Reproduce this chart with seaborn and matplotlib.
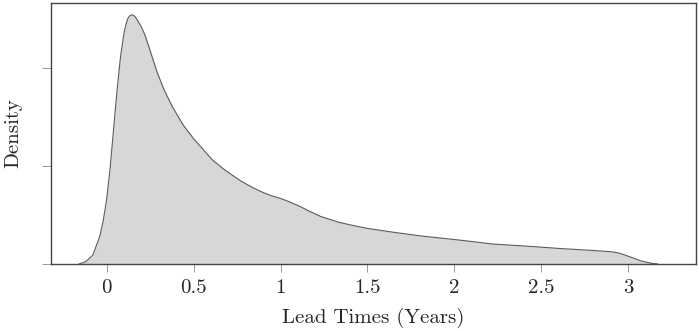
import matplotlib
matplotlib.use("Agg")
import matplotlib.pyplot as plt
import seaborn as sns
import pandas as pd

# density curve (lead time in years, density)
lead_time = [-0.16, -0.12, -0.08, -0.04, -0.02, 0.0, 0.02, 0.04, 0.06, 0.08, 0.10, 0.11,
             0.12, 0.13, 0.14, 0.15, 0.16, 0.17, 0.18, 0.20, 0.22, 0.25, 0.29, 0.33,
             0.38, 0.44, 0.50, 0.56, 0.61, 0.68, 0.77, 0.84, 0.90, 0.95, 1.00, 1.05,
             1.11, 1.17, 1.23, 1.34, 1.42, 1.50, 1.65, 1.82, 1.99, 2.09, 2.22, 2.42,
             2.61, 2.80, 2.91, 2.95, 2.99, 3.03, 3.07, 3.11, 3.14, 3.17]
density = [0.0, 0.012, 0.045, 0.14, 0.22, 0.33, 0.49, 0.69, 0.89, 1.06, 1.18, 1.22,
           1.25, 1.265, 1.272, 1.272, 1.266, 1.255, 1.24, 1.21, 1.17, 1.09, 0.98, 0.89,
           0.80, 0.71, 0.64, 0.58, 0.53, 0.48, 0.425, 0.39, 0.365, 0.348, 0.335, 0.318,
           0.295, 0.268, 0.243, 0.212, 0.196, 0.182, 0.162, 0.142, 0.126, 0.116, 0.102, 0.091,
           0.079, 0.069, 0.062, 0.055, 0.043, 0.03, 0.017, 0.008, 0.003, 0.0]
x_ticks = [0, 0.5, 1, 1.5, 2, 2.5, 3]
x_tick_labels = ["0", "0.5", "1", "1.5", "2", "2.5", "3"]
y_ticks = [0, 0.5, 1]

df = pd.DataFrame({"lead_time": lead_time, "density": density})

sns.set_style("white")
plt.rcParams["font.family"] = "serif"
plt.rcParams["font.serif"] = ["cmr10", "DejaVu Serif"]
plt.rcParams["axes.formatter.use_mathtext"] = True

fig = plt.figure(figsize=(6.99, 3.31), dpi=100)
ax = fig.add_axes([0.073, 0.2024, 0.9227, 0.7886])

ax.fill_between(df["lead_time"], df["density"], 0, color="#d7d7d7", linewidth=0)
sns.lineplot(data=df, x="lead_time", y="density", ax=ax, color="#5a5a5a",
             linewidth=0.8, sort=False)

ax.set_xlim(-0.32, 3.39)
ax.set_ylim(0, 1.333)
ax.set_xticks(x_ticks)
ax.set_xticklabels(x_tick_labels)
ax.set_yticks(y_ticks)
ax.set_yticklabels([])
ax.tick_params(axis="x", direction="out", length=6, width=0.6, color="#888888",
               labelsize=15, pad=5, bottom=True)
ax.tick_params(axis="y", direction="out", length=6.5, width=0.6, color="#888888",
               left=True)
for s in ax.spines.values():
    s.set_color("#444444")
    s.set_linewidth(1.0)

ax.set_xlabel("Lead Times (Years)", fontsize=15, labelpad=8)
ax.set_ylabel("Density", fontsize=15)
ax.yaxis.set_label_coords(-0.045, 0.5)

fig.savefig("out.png", dpi=100)
